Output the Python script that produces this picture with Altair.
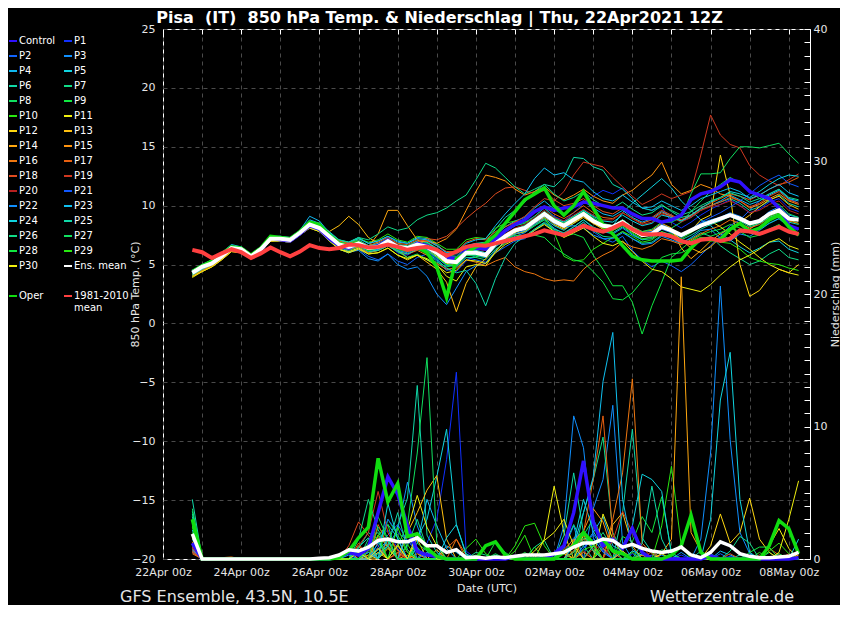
import altair as alt
import pandas as pd

# ---------------- time axis: GFS ENS run 22Apr2021 12Z, 6-hourly steps ----------------
N_STEPS = 63
run_start = pd.Timestamp("2021-04-22 18:00", tz="UTC")
times = [(run_start + pd.Timedelta(hours=6 * k)).strftime("%Y-%m-%dT%H:%M:%SZ") for k in range(N_STEPS)]

member_names = ["Control"] + ["P%d" % i for i in range(1, 31)]
member_colors = ["#3010ff", "#1030ff", "#1064ff", "#1090ff", "#10b8f0", "#10d4e0", "#10d8a8", "#10dc88",
                 "#10e060", "#10e840", "#28e810", "#f0f010", "#ffd810", "#ffc010", "#ffa810", "#ff9410",
                 "#f07810", "#e86010", "#e04c20", "#d03820", "#b82020", "#1058ff", "#1090ff", "#10c0f0",
                 "#10d4e0", "#10d8a8", "#10dc88", "#10e060", "#10e840", "#28e810", "#f0f010"]

# ---------------- 850 hPa temperature (deg C), one string per member ----------------
member_temp = [
    # Control
    "4.4 4.8 5.2 5.8 6.5 6.3 5.6 6.2 7.3 7.1 7.0 7.6 | 8.3 8.0 7.2 6.6 6.4 6.9 6.3 6.6 7.1 6.4 6.2 6.8 6.6 | 6.1 5.6 5.5 6.2 6.4 6.3 7.2 7.9 8.4 8.8 9.5 9.9 | 9.6 9.8 9.9 10.3 10.2 10.0 9.8 9.8 9.3 8.9 8.9 8.6 | 8.8 9.2 10.5 11.0 11.2 11.6 12.2 12.0 11.2 10.9 10.6 9.8 8.3 8.0",
    # P1
    "4.2 4.7 5.0 5.6 6.3 6.2 5.8 6.3 7.1 7.3 7.2 7.8 | 8.5 8.2 7.5 6.9 6.3 6.6 6.1 6.2 6.7 6.0 5.8 6.3 6.1 | 5.5 4.6 4.4 5.3 5.8 5.9 7.0 7.7 8.3 8.6 9.1 9.8 | 9.1 8.7 9.4 10.2 10.8 11.3 11.0 11.5 10.6 9.8 9.6 9.9 | 8.6 8.1 8.6 9.2 9.7 10.1 10.5 10.0 9.4 9.7 10.3 10.6 9.8 9.5",
    # P2
    "4.3 4.8 5.1 5.7 6.4 6.3 5.7 6.3 7.2 7.1 7.0 7.6 | 8.2 7.9 7.3 6.4 6.0 6.3 5.7 5.4 5.9 5.3 5.0 5.6 5.9 | 5.3 4.5 4.8 5.6 5.4 5.2 6.0 6.5 7.0 7.2 7.9 8.5 | 7.9 7.4 8.0 8.6 7.8 7.2 6.9 7.4 6.2 5.4 4.8 5.3 | 4.9 4.4 5.0 5.8 6.6 7.4 8.3 8.8 9.6 10.4 11.0 11.4 10.6 10.2",
    # P3
    "4.5 4.9 5.3 5.9 6.5 6.4 5.9 6.4 7.3 7.4 7.2 7.8 | 8.6 8.4 7.5 6.5 6.1 6.2 5.5 5.3 5.9 5.0 4.6 4.8 4.0 | 2.5 1.6 3.0 4.4 4.9 5.1 6.2 7.0 7.4 7.7 8.3 8.8 | 8.1 7.6 8.2 8.8 8.1 7.8 7.6 8.1 7.5 7.1 7.4 8.0 | 7.7 7.3 7.8 8.5 8.8 9.0 9.4 9.1 8.6 8.8 9.5 9.9 9.2 9.0",
    # P4
    "4.4 4.9 5.2 5.8 6.6 6.5 5.9 6.5 7.4 7.3 7.3 7.9 | 9.1 8.7 7.7 7.0 6.9 7.3 6.8 7.0 7.4 6.9 6.8 7.3 7.2 | 6.7 6.0 5.9 6.6 6.8 6.7 7.5 8.2 8.7 9.0 9.8 10.4 | 9.7 9.2 9.8 10.4 9.8 9.3 9.1 9.6 9.0 8.6 8.9 9.5 | 9.1 8.7 9.0 9.6 10.0 10.4 10.9 10.5 10.1 10.4 10.9 11.3 10.6 10.4",
    # P5
    "4.1 4.6 5.0 5.5 6.2 6.1 5.5 6.1 7.0 7.0 6.9 7.5 | 8.2 7.9 7.2 6.3 6.0 6.4 6.0 6.3 6.8 6.4 6.5 7.0 6.9 | 6.3 5.7 5.6 6.3 6.5 6.4 7.0 7.3 7.6 7.8 8.4 8.9 | 8.3 7.9 8.5 9.2 8.6 8.2 8.3 9.4 10.2 10.9 11.6 12.3 | 11.5 10.4 9.6 8.8 8.3 7.6 7.1 6.5 6.0 6.4 6.9 7.0 6.3 6.0",
    # P6
    "4.3 4.7 5.1 5.7 6.4 6.2 5.6 6.2 7.1 7.1 7.0 7.6 | 8.3 8.1 7.3 6.8 6.7 7.0 6.6 6.8 7.2 6.7 6.6 7.0 6.9 | 6.4 5.8 5.7 6.5 6.8 6.9 8.0 9.0 9.6 10.3 11.2 11.8 | 11.6 12.4 14.1 14.0 13.3 13.0 11.8 11.4 10.6 9.8 9.6 10.1 | 9.5 9.0 9.2 9.7 10.0 10.3 10.6 10.2 9.6 9.9 10.4 10.9 10.2 9.9",
    # P7
    "4.2 4.7 5.0 5.6 6.3 6.2 5.7 6.2 7.1 7.2 7.1 7.6 | 8.3 8.0 7.3 6.5 6.2 6.5 6.0 6.2 6.6 6.2 6.1 6.5 6.2 | 5.6 5.0 4.8 5.6 5.6 5.4 6.3 6.8 7.3 7.4 8.0 8.5 | 7.8 7.5 8.0 8.6 7.9 7.4 7.3 7.8 7.2 6.8 6.9 7.5 | 7.3 6.9 7.2 7.7 7.4 6.6 6.0 5.5 5.0 5.3 5.9 6.3 5.6 5.4",
    # P8
    "4.5 5.0 5.3 5.9 6.6 6.4 5.8 6.4 7.3 7.3 7.2 7.8 | 8.6 8.3 7.6 6.9 6.8 7.1 6.6 6.7 7.2 6.7 6.5 6.9 6.8 | 6.3 5.6 5.5 6.3 6.4 6.3 7.2 7.8 8.3 8.5 9.1 9.8 | 9.0 8.6 9.1 9.6 9.0 8.5 8.3 8.8 8.2 7.7 7.8 8.4 | 8.1 8.6 9.5 10.4 11.2 11.8 12.4 11.9 11.2 10.6 10.4 10.1 9.3 9.0",
    # P9
    "4.0 4.5 4.9 5.5 6.2 6.1 5.6 6.2 7.1 7.0 6.9 7.5 | 8.1 7.8 7.0 6.4 6.3 6.6 6.2 6.4 6.8 6.3 6.2 6.6 6.4 | 5.7 5.0 5.1 5.8 5.7 5.6 6.5 7.1 7.6 7.8 8.3 8.8 | 8.0 7.4 7.6 7.3 5.8 4.6 3.2 3.2 1.8 -0.9 1.5 3.5 | 5.6 6.3 7.0 7.5 7.8 8.0 8.4 8.1 7.7 8.0 8.5 8.9 8.2 8.0",
    # P10
    "4.3 4.7 5.1 5.6 6.3 6.2 5.7 6.3 7.2 7.2 7.0 7.6 | 8.4 8.2 7.5 6.9 6.8 7.2 6.9 7.1 7.6 7.1 6.9 7.4 7.3 | 6.8 6.3 6.3 7.1 7.3 7.2 8.1 8.5 8.7 8.6 8.8 9.0 | 7.7 5.7 5.3 5.4 6.3 6.8 7.3 7.8 7.4 6.9 7.1 7.7 | 7.6 7.2 7.7 8.3 8.6 8.8 9.2 8.9 8.3 8.6 9.1 9.4 8.8 8.5",
    # P11
    "4.0 4.5 4.9 5.5 6.2 6.1 5.6 6.1 7.0 7.1 7.0 7.6 | 8.2 7.9 7.1 6.3 6.0 6.3 5.9 6.0 6.4 5.8 5.4 5.8 5.5 | 5.0 4.0 3.6 4.8 5.0 4.9 6.1 7.0 7.7 8.1 8.7 9.2 | 8.6 8.3 8.8 9.2 8.6 8.2 8.1 8.6 8.0 7.6 7.6 8.3 | 7.9 7.4 7.9 8.3 8.7 8.2 7.6 6.9 6.3 5.6 5.0 4.6 4.3 4.1",
    # P12
    "4.2 4.6 5.0 5.6 6.3 6.2 5.6 6.2 7.1 7.1 7.0 7.6 | 8.3 8.0 7.3 6.6 6.5 6.8 6.4 6.5 7.0 6.4 6.3 6.6 6.3 | 5.7 5.1 5.0 5.8 5.9 5.7 6.7 7.3 7.8 8.0 8.6 9.2 | 8.4 8.0 8.5 9.0 8.5 8.0 7.9 8.4 7.8 7.4 7.5 8.1 | 7.8 7.5 7.9 8.8 9.2 14.3 10.9 5.0 2.3 2.8 3.9 4.6 4.3 5.0",
    # P13
    "4.1 4.6 5.0 5.6 6.3 6.2 5.6 6.2 7.1 7.2 7.1 7.7 | 8.4 8.3 7.8 8.3 9.1 8.4 7.3 6.8 6.9 6.2 5.6 5.8 5.2 | 4.6 3.5 1.0 3.4 4.8 5.5 6.6 7.2 7.6 7.8 8.5 9.0 | 8.5 8.1 8.6 9.1 8.5 8.1 8.0 8.5 7.9 7.5 7.6 8.2 | 7.8 7.1 6.4 6.0 6.5 7.3 8.0 8.6 9.2 9.9 10.5 10.8 10.1 9.7",
    # P14
    "4.0 4.4 4.8 5.4 6.1 6.0 5.5 6.1 7.0 7.1 7.0 7.6 | 8.3 8.0 7.3 6.7 6.6 6.9 6.5 7.6 9.6 9.6 8.3 7.1 6.6 | 6.0 5.4 5.3 6.1 6.2 6.0 6.9 7.5 8.0 8.1 8.8 9.3 | 8.7 8.5 9.0 9.4 8.8 8.4 8.3 8.8 8.2 7.8 7.9 8.5 | 8.1 6.4 5.5 6.2 7.0 7.6 8.1 8.4 8.0 8.6 9.3 9.8 9.0 8.7",
    # P15
    "4.2 4.7 5.1 5.7 6.4 6.3 5.8 6.4 7.3 7.2 7.1 7.7 | 8.5 8.2 7.5 6.8 6.5 6.8 6.3 6.5 6.9 6.5 6.4 6.9 7.0 | 6.8 7.2 8.0 9.6 11.2 12.6 12.4 12.1 11.4 10.9 11.2 11.6 | 10.9 10.5 10.9 11.4 10.8 10.4 10.2 10.9 11.3 12.0 12.6 13.7 | 11.8 11.0 11.3 11.8 11.5 11.0 10.8 10.4 9.8 10.1 10.6 11.0 10.4 10.1",
    # P16
    "4.1 4.5 4.9 5.5 6.2 6.1 5.6 6.1 7.0 7.0 6.9 7.5 | 8.1 7.8 7.1 6.5 6.3 6.5 6.0 6.2 6.6 6.1 5.9 6.2 5.8 | 5.1 4.6 4.7 5.4 5.2 4.9 5.3 5.6 4.8 4.4 4.2 3.8 | 3.6 3.7 3.6 4.6 5.3 5.8 6.2 6.9 6.5 6.3 6.6 7.2 | 7.0 6.7 7.1 7.6 8.0 8.3 8.8 8.5 8.1 8.4 9.0 9.3 8.7 8.5",
    # P17
    "4.3 4.8 5.2 5.8 6.5 6.3 5.8 6.4 7.3 7.3 7.2 7.8 | 8.6 8.3 7.6 7.0 6.8 7.0 6.6 6.9 7.3 6.8 6.7 7.1 7.0 | 6.6 6.1 6.1 6.9 7.2 7.1 7.8 8.2 8.6 8.8 9.4 9.9 | 9.3 8.9 9.4 10.0 9.4 9.0 8.9 9.4 8.9 8.5 8.8 9.4 | 9.1 8.8 9.2 9.8 10.2 10.6 11.0 10.8 10.5 10.9 11.4 11.8 12.0 12.4",
    # P18
    "4.4 4.9 5.2 5.8 6.5 6.4 5.8 6.3 7.2 7.2 7.1 7.7 | 8.4 8.1 7.4 6.8 6.6 6.9 6.5 6.7 7.1 6.6 6.5 6.9 7.2 | 7.1 7.4 8.1 8.9 9.6 10.2 11.0 11.5 11.6 11.3 11.0 11.3 | 10.5 10.0 10.2 10.6 10.0 9.5 9.3 9.8 9.2 8.8 9.0 9.6 | 9.2 8.8 9.1 9.6 10.0 10.3 10.7 10.4 9.9 10.2 10.8 11.2 10.5 10.2",
    # P19
    "4.3 4.7 5.1 5.7 6.4 6.2 5.7 6.3 7.2 7.2 7.1 7.6 | 8.4 8.1 7.4 6.8 6.6 6.9 6.4 6.6 7.0 6.5 6.3 6.6 6.4 | 5.9 5.3 5.3 6.1 6.3 6.2 7.2 7.9 8.6 9.1 9.9 10.6 | 10.4 11.2 12.6 13.7 13.5 13.3 12.4 11.6 10.8 10.1 10.5 11.0 | 10.6 10.9 11.2 14.3 17.7 16.0 15.2 14.9 13.4 12.6 12.1 11.7 12.2 12.7",
    # P20
    "4.4 4.9 5.3 5.9 6.6 6.4 5.8 6.4 7.3 7.3 7.2 7.8 | 8.6 8.3 7.6 6.9 6.7 6.9 6.4 6.7 7.2 6.7 6.4 6.8 6.5 | 6.0 5.3 5.2 6.0 6.1 5.9 6.8 7.6 8.1 8.4 9.0 9.6 | 9.0 8.7 9.2 9.7 9.2 8.8 8.8 9.4 8.9 8.4 8.6 9.3 | 9.0 8.6 9.0 9.6 9.9 10.1 10.4 10.0 9.4 9.6 10.1 10.4 9.6 9.3",
    # P21
    "4.3 4.8 5.2 5.8 6.5 6.3 5.8 6.3 7.2 7.3 7.1 7.7 | 8.4 8.2 7.5 6.8 6.6 6.8 6.3 6.5 6.9 6.4 6.3 6.6 6.3 | 5.8 5.2 5.0 5.9 5.9 5.8 6.7 7.3 7.8 8.1 8.7 9.2 | 8.6 8.3 8.8 9.4 8.8 8.3 8.3 8.8 8.2 7.7 7.8 8.4 | 8.0 7.6 8.0 8.6 9.0 9.4 9.9 10.4 11.0 11.7 12.2 12.6 11.9 11.6",
    # P22
    "4.2 4.6 5.0 5.6 6.3 6.2 5.7 6.3 7.2 7.1 7.0 7.6 | 8.2 7.9 7.2 6.6 6.4 6.7 6.2 6.3 6.8 6.2 6.0 6.4 6.2 | 5.6 4.9 4.9 5.8 5.8 5.6 6.5 7.1 7.6 7.9 8.5 9.1 | 8.5 8.2 8.3 8.1 7.5 7.2 7.2 7.7 7.2 6.7 6.8 7.4 | 7.1 6.8 7.3 7.9 8.0 7.2 7.0 7.6 7.4 7.9 8.5 8.9 8.2 8.0",
    # P23
    "4.5 5.0 5.4 6.0 6.7 6.5 5.9 6.5 7.4 7.4 7.3 7.9 | 8.8 8.5 7.8 7.1 6.9 7.2 6.8 7.0 7.4 7.0 6.8 7.2 7.1 | 6.6 6.0 6.0 6.8 7.1 7.2 8.3 9.3 10.2 11.0 12.3 13.2 | 12.6 12.8 12.2 12.0 11.2 10.6 10.4 10.9 10.3 9.8 9.9 10.4 | 10.0 9.6 10.0 10.6 10.9 11.2 11.5 11.2 10.6 10.9 11.4 11.8 11.1 10.8",
    # P24
    "4.3 4.7 5.1 5.7 6.4 6.3 5.7 6.3 7.2 7.2 7.1 7.7 | 8.5 8.3 7.5 6.9 6.7 7.0 6.6 6.7 7.1 6.6 6.4 6.8 6.5 | 6.0 5.3 5.3 6.1 6.2 6.0 6.9 7.5 8.0 8.3 8.8 9.4 | 8.9 8.6 9.1 9.6 9.1 8.7 8.6 9.2 8.7 8.3 8.5 9.2 | 9.0 8.7 9.2 9.8 10.3 10.7 11.2 11.0 10.7 11.2 11.8 12.3 12.6 12.5",
    # P25
    "4.1 4.6 5.0 5.6 6.3 6.1 5.6 6.2 7.1 7.1 7.0 7.6 | 8.2 7.9 7.2 6.5 6.3 6.6 6.1 6.2 6.6 6.1 5.9 6.3 6.0 | 5.4 4.7 4.3 4.5 3.4 1.5 3.8 5.6 6.8 7.4 8.0 8.6 | 8.0 7.7 8.2 8.8 8.2 7.8 7.7 8.2 7.6 7.1 7.2 7.8 | 7.5 7.1 7.5 8.0 8.4 8.7 9.1 8.7 8.2 8.5 9.0 9.3 8.6 8.4",
    # P26
    "4.4 4.9 5.3 5.9 6.6 6.4 5.8 6.4 7.3 7.3 7.2 7.8 | 8.7 8.4 7.7 7.1 6.9 7.3 7.1 7.6 8.2 7.9 8.1 8.8 9.2 | 9.4 9.8 10.4 10.9 12.2 13.6 13.2 12.4 11.6 11.0 11.4 11.8 | 11.0 10.4 10.7 11.2 10.5 10.0 9.8 10.3 9.7 9.2 9.4 10.0 | 9.6 9.2 9.5 10.0 10.4 10.7 11.1 10.8 10.3 10.6 11.0 11.4 10.7 10.5",
    # P27
    "4.2 4.7 5.1 5.7 6.4 6.2 5.7 6.3 7.2 7.2 7.0 7.6 | 8.3 8.0 7.3 6.6 6.4 6.7 6.2 6.4 6.8 6.1 5.6 5.9 5.4 | 5.2 4.8 5.0 5.8 5.9 5.8 6.7 7.4 7.9 8.3 8.9 9.5 | 8.9 8.5 9.0 9.5 8.9 8.4 8.3 8.8 8.2 7.8 8.0 8.6 | 8.6 9.0 11.0 12.7 12.7 12.8 14.0 15.0 15.0 14.9 15.1 15.3 14.4 13.6",
    # P28
    "4.3 4.8 5.1 5.7 6.4 6.3 5.8 6.3 7.2 7.2 7.1 7.7 | 8.4 8.1 7.4 6.7 6.5 6.8 6.3 6.4 6.8 6.3 6.1 6.5 6.2 | 5.6 5.0 4.9 5.8 5.8 5.7 6.6 7.1 7.5 7.4 7.5 7.3 | 6.5 5.9 5.4 5.2 4.4 3.5 2.1 2.0 2.6 3.6 4.5 5.6 | 5.9 6.0 6.4 7.0 7.4 7.7 8.1 7.8 7.3 7.5 8.0 8.4 7.7 7.5",
    # P29
    "4.4 4.9 5.2 5.8 6.5 6.3 5.7 6.3 7.2 7.2 7.2 7.7 | 8.5 8.2 7.5 6.9 6.7 6.9 6.4 6.6 7.0 6.5 6.2 6.6 6.4 | 5.8 5.2 5.1 5.9 6.0 5.9 6.8 7.4 7.9 8.2 8.7 9.2 | 8.6 8.2 8.7 9.2 8.6 8.1 7.9 8.3 7.7 7.2 7.3 7.8 | 7.3 6.8 7.0 7.3 7.2 6.9 6.8 6.3 5.6 5.3 5.1 5.0 4.7 4.5",
    # P30
    "3.9 4.4 4.8 5.4 6.1 6.0 5.5 6.1 7.0 7.0 6.9 7.5 | 8.1 7.8 7.0 6.3 6.1 6.4 5.9 6.0 6.4 5.8 5.5 5.8 5.4 | 4.9 4.3 4.5 5.4 5.3 5.1 6.0 6.7 7.1 7.3 7.9 8.4 | 7.8 7.3 7.7 8.1 7.4 6.8 6.6 7.0 6.1 5.3 4.6 4.4 | 3.8 3.1 2.9 2.7 3.3 4.1 4.8 5.4 5.8 6.3 6.9 7.2 6.6 6.3",
]
oper_temp = "4.4 4.9 5.3 5.9 6.5 6.4 5.8 6.4 7.4 7.3 7.2 7.8 | 8.6 8.4 7.5 6.8 6.6 6.9 6.3 6.5 7.0 6.4 6.2 6.5 6.0 | 4.8 2.2 5.5 6.0 6.5 6.8 7.5 8.5 9.5 10.5 11.0 11.5 | 10.0 9.2 10.0 11.2 9.8 8.4 7.6 6.6 5.7 5.4 5.3 5.3 | 5.3 5.4 6.4 7.2 7.1 7.1 8.0 8.5 7.8 8.1 8.8 9.2 8.2 7.5"
ens_mean_temp = "4.3 4.8 5.1 5.7 6.4 6.3 5.7 6.3 7.2 7.2 7.1 7.7 | 8.4 8.1 7.4 6.7 6.5 6.8 6.4 6.5 7.0 6.5 6.4 6.7 6.5 | 6.0 5.3 5.2 6.0 6.0 5.8 6.8 7.4 7.9 8.1 8.7 9.3 | 8.7 8.3 8.8 9.3 8.7 8.3 8.2 8.6 8.0 7.5 7.6 8.2 | 7.9 7.5 7.9 8.3 8.6 8.9 9.2 8.9 8.5 8.7 9.3 9.6 8.9 8.8"
clim_temp = "6.25 6.05 5.55 5.95 6.3 6.05 5.55 5.95 6.45 6.05 5.7 6.1 | 6.65 6.4 6.3 6.4 6.7 6.65 6.45 6.5 6.7 6.5 6.25 6.4 6.5 | 6.25 5.75 6.1 6.5 6.65 6.6 6.8 7.0 7.2 7.4 7.6 7.9 | 7.7 7.5 7.9 8.3 8.0 7.8 8.1 8.5 8.0 7.6 7.55 7.6 | 7.4 7.0 6.8 7.1 7.2 7.0 7.2 7.9 7.8 7.6 7.9 8.2 7.8 7.6"

# ---------------- 6-hourly precipitation (mm): "step:value", all other steps 0 ----------------
member_precip = [
    "0:1.2 15:0.2 16:0.5 17:0.3 18:0.8 19:3.5 20:6.2 21:4.9 22:2.5 23:0.6 24:0.3 25:0.2 33:0.2 37:0.4 38:1.0 39:3.5 40:7.4 41:2.8 42:1.0 43:1.5 44:0.8 45:2.3 46:0.5 53:0.2 62:0.1",
    "0:0.8 16:0.4 18:0.6 19:1.5 20:2.2 21:0.8 24:1.2 25:3.0 26:7.5 27:14.1 28:0.6 40:0.8 41:1.5 42:0.6 45:0.4 50:0.3 55:0.2",
    "0:0.5 17:0.6 19:1.2 20:1.8 21:2.6 22:1.4 23:0.5 38:0.5 39:1.6 40:2.0 41:0.8 44:0.5 47:0.3 54:0.4",
    "0:1.0 18:0.5 20:1.0 21:2.2 22:5.8 23:2.5 24:0.6 38:0.8 39:2.5 41:3.8 42:6.0 43:11.6 44:1.2 48:0.3",
    "0:1.5 16:0.3 19:1.2 20:2.6 21:1.6 23:0.8 26:1.0 27:0.5 36:0.3 40:1.0 41:2.0 42:3.2 43:1.0 44:0.6 46:0.4 54:0.6 55:0.3",
    "0:0.6 19:0.4 20:1.0 23:1.6 24:3.0 25:6.2 26:9.8 27:2.6 28:0.4 39:1.2 40:4.5 41:2.1 42:0.8 45:0.6 46:0.3",
    "0:4.5 17:0.8 18:2.0 19:1.5 21:2.5 22:4.6 23:13.1 24:1.8 25:0.5 38:1.0 39:2.6 40:1.0 44:3.5 45:9.8 46:1.6 47:0.5 56:0.3",
    "0:3.6 18:1.5 19:2.0 20:0.9 22:1.0 23:3.0 24:0.8 31:0.3 35:0.9 36:1.4 40:3.5 41:6.0 42:9.2 43:2.0 44:0.5 58:0.3",
    "0:3.0 17:0.6 19:2.4 20:1.6 21:0.7 23:0.9 29:0.3 39:0.6 40:1.8 41:3.0 42:1.5 48:0.7 49:0.5 59:0.5",
    "0:2.5 18:1.2 20:3.0 21:1.8 22:0.5 24:1.0 34:0.5 40:1.5 41:0.8 44:1.7 45:1.3 46:3.2 47:2.0 48:4.7 49:0.5",
    "0:2.0 17:0.4 19:1.8 20:2.6 22:1.1 33:1.0 34:2.5 35:2.7 36:1.0 42:1.4 46:0.6 48:2.5 49:7.0 50:1.0 58:0.5",
    "0:1.1 18:0.3 20:0.8 22:2.2 23:4.8 24:2.4 25:1.0 36:1.5 37:5.5 38:2.0 42:3.4 43:1.5 44:0.4 59:1.0 60:2.3 61:0.8",
    "0:0.9 19:0.5 21:1.1 23:1.5 25:0.7 38:0.6 41:1.0 53:1.0 54:3.4 55:1.2 56:2.0 57:4.6 58:1.5 59:0.5",
    "0:0.7 17:0.5 20:1.4 22:2.0 23:3.5 24:5.2 25:6.3 26:1.5 38:0.4 40:1.8 41:0.6 43:2.6 44:3.5 45:1.0",
    "0:0.6 17:1.0 19:1.8 20:0.9 22:0.3 40:0.5 42:0.8 48:0.4 49:1.5 50:21.3 51:2.0 52:0.6 62:0.3",
    "0:1.3 16:0.6 19:0.8 21:0.5 23:0.4 39:1.4 40:2.1 41:3.8 42:2.8 43:0.5 46:0.3",
    "0:0.4 3:0.1 4:0.15 18:1.0 20:1.6 21:0.7 27:1.5 28:0.3 38:0.7 39:1.5 43:3.0 44:6.5 45:13.6 46:1.2 47:0.4",
    "0:0.5 17:1.2 19:2.6 20:1.0 26:0.8 27:1.5 39:0.5 40:2.0 41:6.0 42:10.8 43:1.8 44:0.5 59:0.8 60:0.3",
    "0:0.8 16:1.0 17:2.8 18:1.8 19:1.0 21:0.4 32:0.3 39:0.6 40:1.5 41:1.2 47:0.6 55:0.4",
    "0:0.6 17:1.0 18:2.0 19:5.1 20:2.0 21:0.6 24:0.5 40:0.6 43:1.4 44:3.6 45:2.0 46:1.0 61:0.4",
    "0:0.9 18:0.6 19:1.6 20:1.2 22:0.7 41:0.8 42:1.0 44:0.6 58:0.3 60:0.4",
    "0:1.1 17:0.4 19:0.9 20:3.0 21:2.0 22:1.4 23:0.6 40:0.8 41:1.9 42:0.7 53:0.4",
    "0:0.7 18:0.5 20:1.6 22:2.2 24:0.5 38:2.5 39:10.8 40:8.4 41:1.6 42:0.5 50:0.5 52:1.5 53:8.0 54:20.6 55:9.0 56:2.0 57:0.4",
    "0:1.8 19:0.7 20:1.4 23:1.2 24:4.5 25:2.5 26:0.8 39:1.0 40:3.5 41:6.2 42:13.4 43:17.1 44:4.5 45:0.8",
    "0:2.2 18:0.8 20:4.2 21:1.5 26:1.6 27:2.6 28:0.3 44:1.0 45:2.5 46:6.4 47:6.0 48:5.1 49:0.3 53:3.0 54:12.0 55:15.6 56:4.5 57:0.5 62:1.5",
    "0:3.2 17:0.9 18:1.6 20:1.0 21:3.5 22:0.7 38:1.8 39:6.5 40:2.0 41:0.6 46:1.2 47:5.5 48:1.5 52:0.6",
    "0:3.4 17:1.5 18:4.5 19:2.2 20:1.0 29:0.5 30:0.3 41:1.0 42:2.0 43:0.8 55:0.6 56:1.7 57:1.2",
    "0:3.8 18:0.8 19:1.3 21:1.0 22:2.6 23:8.0 24:15.2 25:1.2 31:0.4 39:0.5 40:1.6 41:1.1 60:0.4",
    "0:2.8 17:0.7 19:3.2 20:1.5 23:1.2 24:0.6 31:1.3 32:0.5 35:0.9 42:1.0 43:1.6 44:0.5 57:0.5 58:0.9 59:0.9",
    "0:2.4 18:0.6 19:1.8 21:2.4 22:0.5 28:0.8 29:1.5 30:0.4 33:0.6 34:1.8 40:0.7 41:1.0 45:0.5 59:0.6 60:1.2 61:0.4",
    "0:1.6 17:0.5 19:0.8 21:1.0 23:2.0 24:1.0 35:0.6 36:1.4 37:2.0 38:3.0 39:1.0 44:0.6 48:0.4 60:0.5 61:3.0 62:5.9",
]
oper_precip = "0:3.0 15:0.1 16:0.6 17:1.6 18:2.4 19:7.6 20:4.3 21:5.7 22:1.7 23:1.9 24:0.8 25:0.2 30:1.0 31:1.3 32:0.3 38:0.5 39:1.0 40:2.0 41:1.2 42:1.5 43:0.6 44:0.4 49:0.3 50:1.0 51:3.3 52:0.5 59:1.0 60:2.9 61:2.3 62:0.4"
ens_mean_precip = "1.9 0 0 0 0 0 0 0 0 0 0 0 0 0.05 0.1 0.3 0.7 0.6 0.9 1.4 1.5 1.3 1.3 1.6 1.0 1.0 0.5 0.7 0.1 0.15 0.05 0.15 0.1 0.2 0.3 0.3 0.3 0.4 0.5 0.9 1.2 1.2 1.5 1.4 0.9 1.1 0.8 0.6 0.5 0.6 0.9 0.3 0.1 0.5 1.3 1.0 0.4 0.2 0.1 0.1 0.15 0.2 0.5"


def full(s, name):
    vals = [float(v) for v in s.replace("|", " ").split()]
    assert len(vals) == N_STEPS, (name, len(vals))
    return vals


def sparse(s):
    vals = [0.0] * N_STEPS
    for tok in s.split():
        k, v = tok.split(":")
        vals[int(k)] = float(v)
    return vals


def frame(name, values, col):
    return pd.DataFrame({"t": times, "series": name, col: values})


thin_T = pd.concat([frame(n, full(s, n), "temp") for n, s in zip(member_names[1:], member_temp[1:])])
thick_T = pd.concat([frame("Control", full(member_temp[0], "Control"), "temp"),
                     frame("Oper", full(oper_temp, "Oper"), "temp")])
mean_T = frame("Ens. mean", full(ens_mean_temp, "mean"), "temp")
clim_T = frame("1981-2010 mean", full(clim_temp, "clim"), "temp")

thin_P = pd.concat([frame(n, sparse(s), "precip") for n, s in zip(member_names[1:], member_precip[1:])])
thick_P = pd.concat([frame("Control", sparse(member_precip[0]), "precip"),
                     frame("Oper", sparse(oper_precip), "precip")])
mean_P = frame("Ens. mean", full(ens_mean_precip, "meanP"), "precip")

# ---------------- legend: two columns (filled column by column) ----------------
colour_of = dict(zip(member_names, member_colors))
colour_of.update({"Ens. mean": "#ffffff", " ": "#000000", "  ": "#000000",
                  "Oper": "#10dd10", "1981-2010 mean": "#ff4040"})
legend_col1 = [member_names[i] for i in range(0, 31, 2)] + [" ", "Oper"]
legend_col2 = [member_names[i] for i in range(1, 31, 2)] + ["Ens. mean", "  ", "1981-2010 mean"]
legend_domain = legend_col1 + legend_col2
legend_range = [colour_of[n] for n in legend_domain]

color_enc = alt.Color(
    "series:N",
    scale=alt.Scale(domain=legend_domain, range=legend_range),
    legend=alt.Legend(orient="none", legendX=-155, legendY=7, direction="vertical", columns=2,
                      symbolLimit=60, symbolType="stroke", symbolSize=64, symbolStrokeWidth=2, title=None,
                      labelFontSize=10, labelColor="white", labelFont="DejaVu Sans",
                      rowPadding=5, columnPadding=4, labelOffset=1, padding=0,
                      labelExpr="datum.label == '1981-2010 mean' ? ['1981-2010', 'mean'] : datum.label"),
)

days = [alt.DateTime(year=2021, month=m, date=d, hours=0, utc=True)
        for m, d in [(4, 22), (4, 23), (4, 24), (4, 25), (4, 26), (4, 27), (4, 28), (4, 29), (4, 30),
                     (5, 1), (5, 2), (5, 3), (5, 4), (5, 5), (5, 6), (5, 7), (5, 8)]]
x_scale = alt.Scale(type="utc", domain=[alt.DateTime(year=2021, month=4, date=22, hours=0, utc=True),
                                        alt.DateTime(year=2021, month=5, date=8, hours=13, utc=True)])
x_bottom = alt.X("t:T", scale=x_scale, axis=alt.Axis(
    orient="bottom", values=days, grid=True, ticks=False, domain=False, title="Date (UTC)",
    labelExpr="utcdate(datum.value) % 2 == 0 ? utcFormat(datum.value, '%d%b %Hz') : ''",
    labelPadding=7, titlePadding=5, labelFlush=False, labelOverlap=False))
x_top = alt.X("t:T", scale=x_scale, axis=alt.Axis(
    orient="top", values=days, grid=False, labels=False, domain=False, ticks=True,
    tickSize=5, offset=-5, title=None))

y_temp = alt.Y("temp:Q", scale=alt.Scale(domain=[-20, 25], nice=False, zero=False), axis=alt.Axis(
    orient="left", values=list(range(-20, 30, 5)), grid=True, ticks=False, domain=False,
    title="850 hPa Temp. (°C)", labelPadding=8, titleX=-23, titleY=265))
y_precip = alt.Y("precip:Q", scale=alt.Scale(domain=[0, 40], nice=False), axis=alt.Axis(
    orient="right", values=list(range(0, 41)), grid=False, domain=False, ticks=True,
    tickSize=6, offset=-6, labelPadding=3, title="Niederschlag (mm)",
    titleAngle=270, titleX=31, titleY=265, titleBaseline="middle", titleAlign="center",
    labelExpr="datum.value % 10 == 0 ? datum.label : ''"))

# ---------------- temperature layers ----------------
t_thin = alt.Chart(thin_T).mark_line(strokeWidth=1).encode(x=x_bottom, y=y_temp, color=color_enc)
t_thick = alt.Chart(thick_T).mark_line(strokeWidth=3.5).encode(x=x_bottom, y=y_temp, color=color_enc)
t_mean = alt.Chart(mean_T).mark_line(strokeWidth=4).encode(x=x_bottom, y=y_temp, color=color_enc)
t_clim = alt.Chart(clim_T).mark_line(strokeWidth=4).encode(x=x_bottom, y=y_temp, color=color_enc)

foot_left = alt.Chart(pd.DataFrame({"label": ["GFS Ensemble, 43.5N, 10.5E"]})).mark_text(
    align="left", baseline="middle", fontSize=16, color="#e6e6e6", font="DejaVu Sans"
).encode(x=alt.value(-43), y=alt.value(568), text="label:N")
foot_right = alt.Chart(pd.DataFrame({"label": ["Wetterzentrale.de"]})).mark_text(
    align="left", baseline="middle", fontSize=16, color="#e6e6e6", font="DejaVu Sans"
).encode(x=alt.value(487), y=alt.value(568), text="label:N")

temp_group = alt.layer(t_thin, t_thick, t_mean, t_clim, foot_left, foot_right)

# ---------------- precipitation layers ----------------
p_thin = alt.Chart(thin_P).mark_line(strokeWidth=1).encode(x=x_top, y=y_precip, color=color_enc)
p_thick = alt.Chart(thick_P).mark_line(strokeWidth=3.5).encode(x=x_top, y=y_precip, color=color_enc)
p_mean = alt.Chart(mean_P).mark_line(strokeWidth=3.5).encode(x=x_top, y=y_precip, color=color_enc)
precip_group = alt.layer(p_thin, p_thick, p_mean)

chart = alt.layer(temp_group, precip_group).resolve_scale(y="independent").resolve_axis(
    x="independent", y="independent"
).properties(
    width=647, height=530, background="black",
    padding={"left": 0, "top": 2, "right": 0, "bottom": 0},
    title=alt.Title("Pisa\u00a0 (IT)\u00a0 850 hPa Temp. & Niederschlag | Thu, 22Apr2021 12Z",
                    fontSize=16, fontWeight="bold", color="white", font="DejaVu Sans",
                    anchor="middle", frame="group", dx=-47, offset=-3),
).configure_view(
    stroke="white", strokeWidth=1, fill="black"
).configure_axis(
    labelColor="#e6e6e6", titleColor="#e6e6e6", labelFont="DejaVu Sans", titleFont="DejaVu Sans",
    labelFontSize=11, titleFontSize=11, titleFontWeight="normal", gridColor="#4a4a4a",
    gridDash=[4, 4], gridWidth=1, tickColor="white"
)

chart.save("out.html", embed_options={"renderer": "svg", "actions": False})
